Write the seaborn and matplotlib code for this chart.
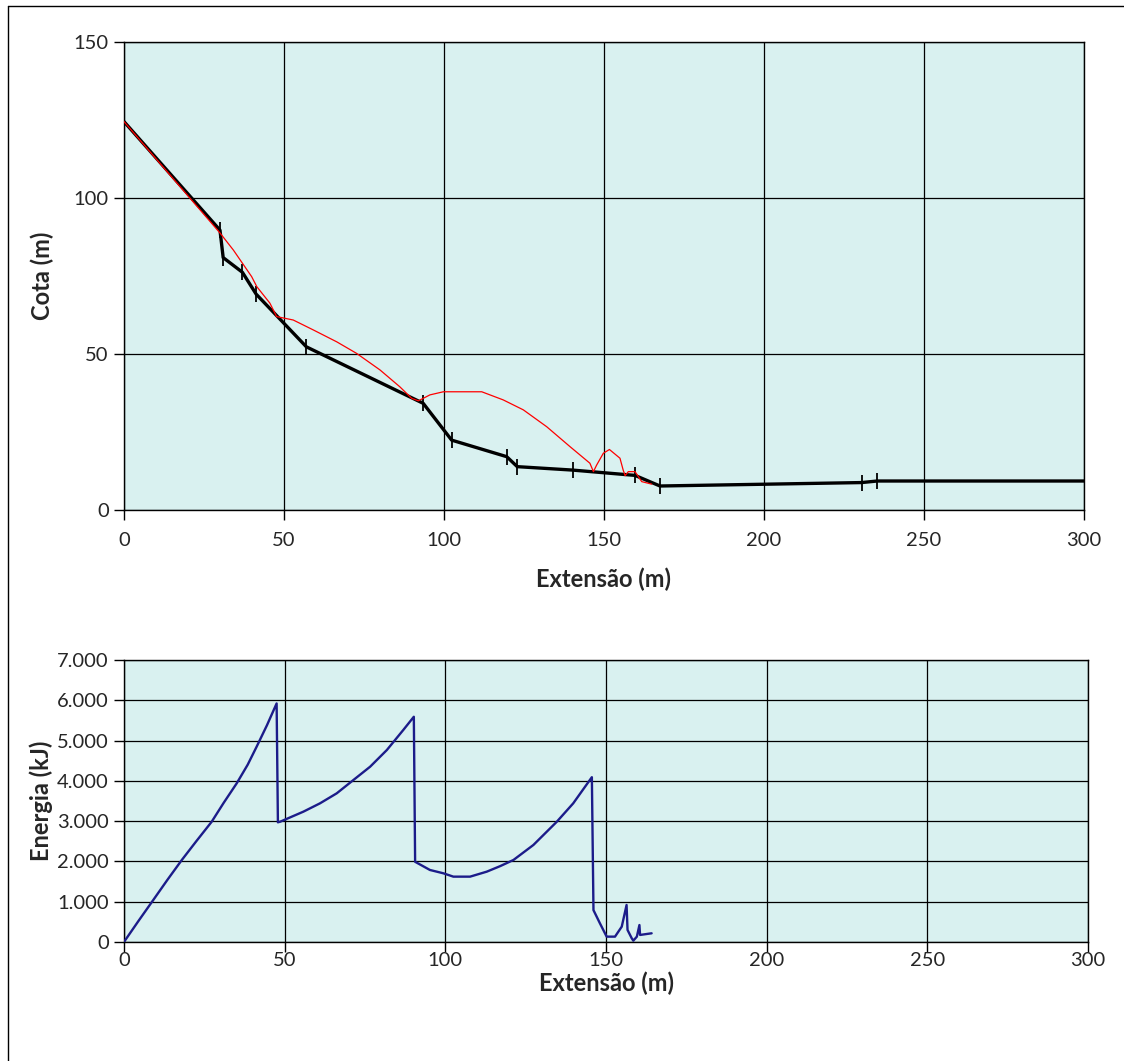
import matplotlib
matplotlib.use("Agg")
import matplotlib.pyplot as plt
import seaborn as sns
from matplotlib.lines import Line2D
from matplotlib.ticker import FuncFormatter

# ground profile (black), vertices with tick marks
ground_x = [0, 30, 31, 37, 41.3, 57, 93.5, 102.4, 119.6, 122.9, 140.2, 159.7, 167.5, 230.5, 235.4, 300]
ground_y = [124.5, 89.7, 80.9, 76.2, 69.2, 52.3, 34.2, 22.4, 17.1, 13.9, 12.8, 11.1, 7.7, 8.8, 9.3, 9.3]

# block trajectory (red)
traj_x = [0, 30, 34.2, 39.9, 41.5, 45.6, 47.7, 52.9, 59.2, 66.5, 72.7, 80, 86.2, 89.9, 92,
          95.6, 99.8, 111.8, 118.5, 124.8, 132.1, 139.4, 145.6, 146.7, 147.7, 149.8, 151.7,
          155, 156, 156.6, 157.6, 159.7, 161.8, 164.9]
traj_y = [124.5, 88.8, 83.3, 74.8, 71.6, 66.3, 62, 60.9, 57.7, 53.9, 50.2, 44.9, 39.5, 35.8, 35,
          36.9, 37.9, 37.9, 35.3, 32.1, 26.7, 20.3, 15, 12.3, 14.4, 18.2, 19.4,
          16.6, 12.8, 11, 12.3, 12.3, 9.1, 8.3]

# kinetic energy along the path
energy_x = [0, 4.5, 9.1, 13.5, 18, 22.5, 27.3, 31, 35.1, 38.5, 41.3, 44.5, 47.5, 47.9,
            48.6, 55.8, 61, 66.2, 71.4, 76.6, 81.8, 86.9, 90.2, 90.6, 95.2, 99.4, 102.5,
            107.7, 112.9, 117, 121.2, 127.4, 134.7, 139.8, 145.6, 146.1, 148.1, 150.2,
            152.8, 154.9, 156.4, 156.7, 158, 158.5, 159.6, 160.4, 160.6, 164.2]
energy_y = [0, 520, 1040, 1540, 2035, 2500, 2985, 3450, 3940, 4400, 4850, 5380, 5920, 2970,
            2985, 3233, 3441, 3689, 4020, 4350, 4764, 5260, 5590, 1990, 1787, 1704, 1621,
            1621, 1745, 1880, 2035, 2407, 2985, 3441, 4090, 790, 464, 132,
            132, 380, 918, 298, 92, 32, 132, 420, 174, 215]

BG = "#d9f1f0"

sns.set_style("white")
plt.rcParams["font.family"] = ["Lato", "DejaVu Sans"]

fig = plt.figure(figsize=(11.24, 10.61), dpi=100)
ax1 = fig.add_axes([0.1103, 0.5193, 0.8541, 0.4411])
ax2 = fig.add_axes([0.1103, 0.1122, 0.8577, 0.2658])

for ax in (ax1, ax2):
    ax.set_facecolor(BG)
    ax.grid(True, color="black", lw=0.9)
    ax.set_axisbelow(True)
    for s in ax.spines.values():
        s.set_color("black")
        s.set_linewidth(1.0)
    ax.tick_params(axis="both", direction="out", length=7, width=1, color="black",
                   labelsize=14.5, pad=4, left=True, bottom=True)
    ax.set_xlim(0, 300)
    ax.set_xticks(range(0, 301, 50))
ax1.tick_params(axis="x", pad=9)
ax2.tick_params(axis="x", pad=0)

# top: profile
sns.lineplot(x=ground_x, y=ground_y, sort=False, estimator=None, ax=ax1,
             color="black", lw=2.4, zorder=3)
ax1.plot(ground_x[1:-1], ground_y[1:-1], ls="none", marker="|", ms=11, mew=1.3,
         color="black", zorder=3)
sns.lineplot(x=traj_x, y=traj_y, sort=False, estimator=None, ax=ax1,
             color="red", lw=0.9, zorder=4)
ax1.set_ylim(0, 150)
ax1.set_yticks([0, 50, 100, 150])
ax1.set_xlabel("Extensão (m)", fontsize=17, fontweight="bold", labelpad=13)
ax1.set_ylabel("Cota (m)", fontsize=17, fontweight="bold", labelpad=14)

# bottom: energy
sns.lineplot(x=energy_x, y=energy_y, sort=False, estimator=None, ax=ax2,
             color="#1c1c8a", lw=1.7, zorder=3)
ax2.set_ylim(0, 7000)
ax2.set_yticks(range(0, 7001, 1000))
ax2.yaxis.set_major_formatter(FuncFormatter(lambda v, p: f"{int(v):,}".replace(",", ".")))
ax2.set_xlabel("Extensão (m)", fontsize=17, fontweight="bold", labelpad=2)
ax2.set_ylabel("Energia (kJ)", fontsize=17, fontweight="bold", labelpad=3)

# outer chart frame
fig.add_artist(Line2D([8 / 1124, 8 / 1124], [0, 1 - 6 / 1061], color="black", lw=1))
fig.add_artist(Line2D([8 / 1124, 1], [1 - 6 / 1061, 1 - 6 / 1061], color="black", lw=1))

fig.savefig("out.png", dpi=100, facecolor="white")
